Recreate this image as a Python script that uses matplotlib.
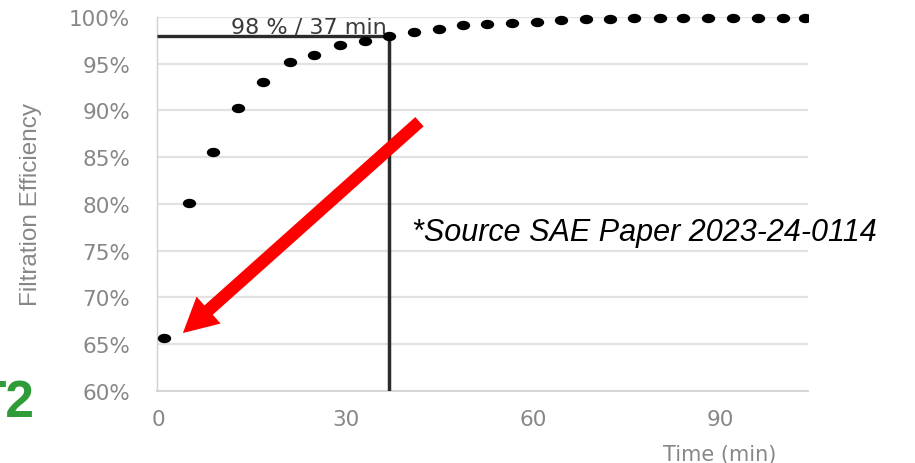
import matplotlib
matplotlib.use("Agg")
import matplotlib.pyplot as plt
from matplotlib.path import Path
from matplotlib.transforms import Affine2D
from matplotlib.patches import FancyArrowPatch, ArrowStyle, Rectangle
from matplotlib.ticker import FuncFormatter

# Filtration efficiency over loading time
time_min = [0.8, 4.9, 8.8, 12.8, 16.8, 21.0, 24.9, 29.0, 33.1, 37.0, 40.9, 44.9,
            48.8, 52.7, 56.7, 60.6, 64.5, 68.5, 72.4, 76.2, 80.3, 84.1, 88.1,
            92.0, 96.0, 100.0, 103.6]
efficiency_pct = [65.7, 80.1, 85.6, 90.3, 93.1, 95.2, 95.9, 97.0, 97.4, 98.0,
                  98.4, 98.7, 99.1, 99.25, 99.4, 99.5, 99.65, 99.75, 99.8,
                  99.85, 99.85, 99.9, 99.9, 99.9, 99.9, 99.9, 99.9]

target_eff = 98
target_time = 37

y_ticks = [60, 65, 70, 75, 80, 85, 90, 95, 100]
x_ticks = [0, 30, 60, 90]

# arrow from the note down to the first measurement
arrow_tail = (41.8, 88.8)
arrow_tip = (3.9, 66.2)

W, H = 915, 464
fig = plt.figure(figsize=(W / 100, H / 100), dpi=100)
ax = fig.add_axes([157.3 / W, 72 / H, 650.4 / W, 374 / H])

tick_grey = "#878787"

ax.set_xlim(-0.2, 104.0)
ax.set_ylim(60, 100)
ax.set_yticks(y_ticks)
ax.set_xticks(x_ticks)
ax.yaxis.set_major_formatter(FuncFormatter(lambda v, p: f"{v:.0f}%"))
ax.tick_params(axis="both", length=0, labelcolor=tick_grey, labelsize=15.5,
               labelfontfamily="DejaVu Sans")
ax.tick_params(axis="y", pad=19.5)
ax.tick_params(axis="x", pad=13)

ax.yaxis.grid(True, color="#e2e2e2", lw=1.6)
ax.set_axisbelow(True)
for side in ("top", "right"):
    ax.spines[side].set_visible(False)
ax.spines["left"].set_color("#d0d0d0")
ax.spines["left"].set_linewidth(1.0)
ax.spines["bottom"].set_color("#d6d6d6")
ax.spines["bottom"].set_linewidth(1.4)

# 98 % reference lines
ax.plot([ax.get_xlim()[0], target_time], [target_eff, target_eff],
        color="#2b2b2b", lw=2.4, solid_capstyle="butt", zorder=3)
ax.plot([target_time, target_time], [60, target_eff],
        color="#2b2b2b", lw=2.5, solid_capstyle="butt", zorder=3)
ax.annotate(f"{target_eff} % / {target_time} min", xy=(target_time, target_eff),
            xytext=(-2.0, 2.4), textcoords="offset points", ha="right",
            va="baseline", fontsize=16, color="#3a3a3a", family="DejaVu Sans",
            zorder=4)

# measurement dots (slightly wide ellipses)
dot = Affine2D().scale(1.5, 1.0).transform_path(Path.unit_circle())
pts, = ax.plot(time_min, efficiency_pct, linestyle="none", marker=dot,
               markersize=8.6, color="black", zorder=5)
clip = Rectangle((-0.05, -0.05), 1.05, 1.15, transform=ax.transAxes,
                 facecolor="none", edgecolor="none")
pts.set_clip_path(clip)

# red pointer arrow
arrow = FancyArrowPatch(posA=arrow_tail, posB=arrow_tip,
                        arrowstyle=ArrowStyle.Simple(head_length=24.8,
                                                     head_width=26.0,
                                                     tail_width=9.0),
                        mutation_scale=1, shrinkA=0, shrinkB=0,
                        color="#ff0000", lw=0, zorder=6)
ax.add_patch(arrow)

# axis titles
ax.set_xlabel("Time (min)", fontsize=15, color=tick_grey, family="DejaVu Sans")
ax.xaxis.set_label_coords(0.865, -0.142)
fig.text(31.5 / W, 1 - 204.5 / H, "Filtration Efficiency", rotation=90,
         ha="center", va="center", fontsize=17.5,
         family="Liberation Sans", color=tick_grey)

# source note and slide tag
fig.text(411.7 / W, 1 - 240.7 / H, "*Source SAE Paper 2023-24-0114",
         fontsize=22, style="italic", family="Liberation Sans", color="black",
         va="baseline", ha="left")
fig.text(34 / W, 1 - 417 / H, "T2", fontsize=37, fontweight="bold",
         family="Liberation Sans", color="#2f9c37", ha="right", va="baseline")

fig.savefig("out.png", dpi=100)
